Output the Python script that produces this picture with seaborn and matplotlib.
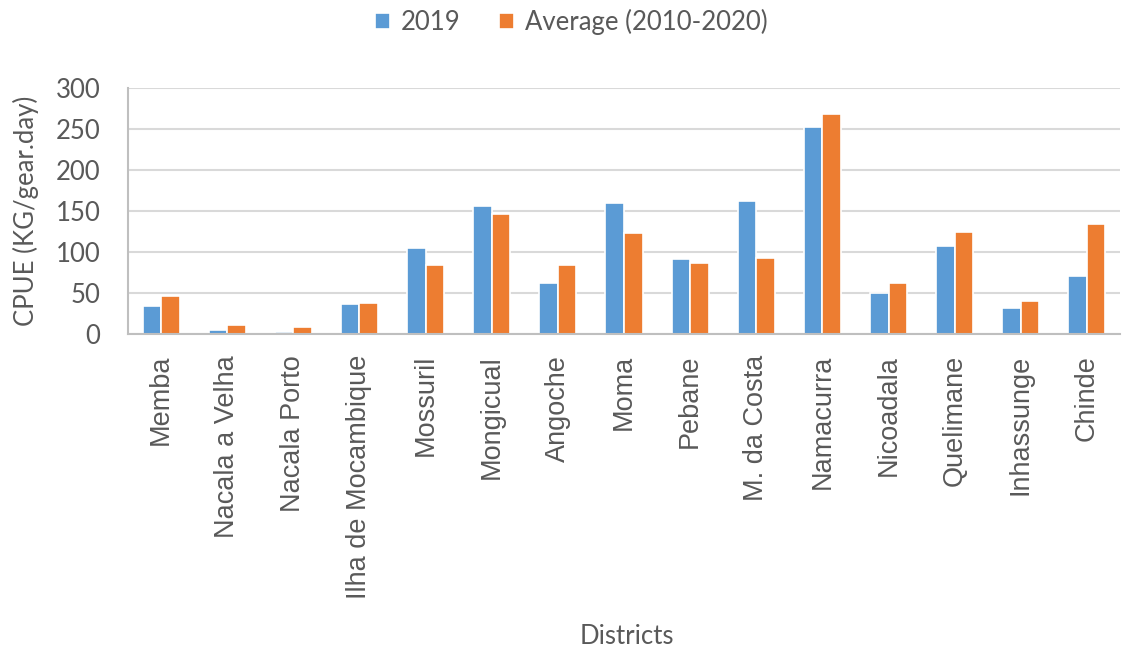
import matplotlib
matplotlib.use("Agg")
import matplotlib.pyplot as plt
import seaborn as sns
import pandas as pd

districts = ["Memba", "Nacala a Velha", "Nacala Porto", "Ilha de Mocambique",
             "Mossuril", "Mongicual", "Angoche", "Moma", "Pebane", "M. da Costa",
             "Namacurra", "Nicoadala", "Quelimane", "Inhassunge", "Chinde"]
cpue_2019 = [34, 5, 3, 36, 105, 156, 62, 160, 91, 162, 252, 50, 107, 32, 71]
cpue_avg = [46, 11, 9, 38, 84, 146, 84, 123, 87, 93, 268, 62, 125, 40, 134]
series = ["2019", "Average (2010-2020)"]
yticks = [0, 50, 100, 150, 200, 250, 300]

df = pd.DataFrame({
    "District": districts * 2,
    "CPUE": cpue_2019 + cpue_avg,
    "Series": [series[0]] * len(districts) + [series[1]] * len(districts),
})

sns.set_theme(style="white")
plt.rcParams["font.family"] = ["Lato", "DejaVu Sans"]

text_color = "#595959"
fig = plt.figure(figsize=(11.24, 6.53), dpi=100)
ax = fig.add_axes([0.1139, 0.4885, 0.8825, 0.3767])

sns.barplot(data=df, x="District", y="CPUE", hue="Series", order=districts,
            hue_order=series, palette=["#5B9BD5", "#ED7D31"], saturation=1,
            width=0.56, edgecolor="white", linewidth=1.2, ax=ax, legend=True)

ax.set_ylim(0, 300)
ax.set_yticks(yticks)
ax.set_xlim(-0.5, len(districts) - 0.5)
ax.yaxis.grid(True, color="#D9D9D9", linewidth=1.5)
ax.set_axisbelow(True)
for side in ["top", "right"]:
    ax.spines[side].set_visible(False)
for side in ["left", "bottom"]:
    ax.spines[side].set_color("#BFBFBF")
    ax.spines[side].set_linewidth(1.5)

ax.tick_params(axis="y", length=0, pad=20, labelsize=18.5, labelcolor=text_color)
ax.tick_params(axis="x", length=0, pad=15, labelcolor=text_color)
for lab in ax.get_xticklabels():
    lab.set_rotation(90)
    lab.set_fontfamily("Liberation Sans")
    lab.set_fontsize(19.5)
    lab.set_va("top")

ax.set_ylabel("CPUE (KG/gear.day)", fontsize=18.5, color=text_color, labelpad=12)
ax.set_xlabel("")
fig.text(0.558, 0.025, "Districts", ha="center", va="center",
         fontsize=18.5, color=text_color)

handles, labels = ax.get_legend_handles_labels()
ax.get_legend().remove()
leg = fig.legend(handles, labels, loc="center", bbox_to_anchor=(0.508, 0.966),
                 ncol=2, frameon=False, fontsize=18.5, handlelength=0.6,
                 handleheight=0.6, handletextpad=0.4, columnspacing=1.5)
for t in leg.get_texts():
    t.set_color(text_color)

fig.savefig("out.png", dpi=100, facecolor="white")
